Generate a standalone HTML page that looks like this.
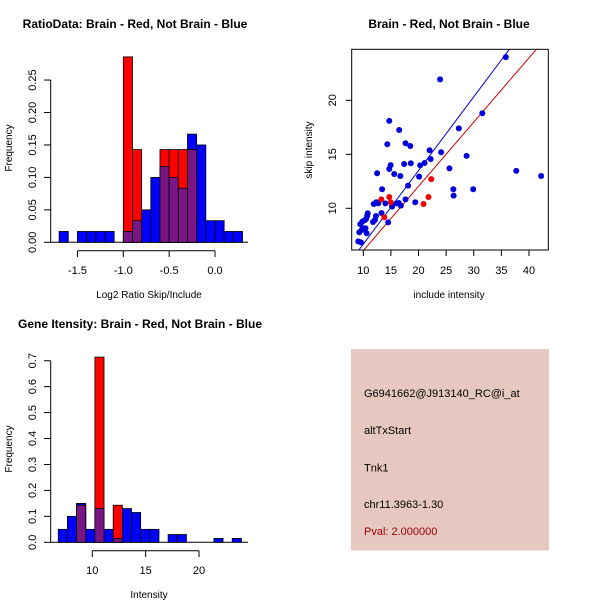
<!DOCTYPE html>
<html><head><meta charset="utf-8"><style>
html,body{margin:0;padding:0;background:#fff;}
svg{display:block;font-family:"Liberation Sans",sans-serif;}
</style></head><body>
<svg id="root" width="600" height="600" viewBox="0 0 600 600" xmlns="http://www.w3.org/2000/svg">
<rect width="600" height="600" fill="#fff"/>
<g id="p1">
<text x="135" y="28" font-size="12" font-weight="bold" text-anchor="middle">RatioData: Brain - Red, Not Brain - Blue</text>
<text x="0" y="0" font-size="10" text-anchor="middle" transform="translate(12,148) rotate(-90)">Frequency</text>
<text x="149" y="298" font-size="10" text-anchor="middle">Log2 Ratio Skip/Include</text>
</g>
<g id="p2">
<text x="449" y="28" font-size="12" font-weight="bold" text-anchor="middle">Brain - Red, Not Brain - Blue</text>
<text x="0" y="0" font-size="10" text-anchor="middle" transform="translate(312,150) rotate(-90)">skip intensity</text>
<text x="449" y="298" font-size="10" text-anchor="middle">include intensity</text>
</g>
<g id="p3">
<text x="140" y="328" font-size="12" font-weight="bold" text-anchor="middle">Gene Itensity: Brain - Red, Not Brain - Blue</text>
<text x="0" y="0" font-size="10" text-anchor="middle" transform="translate(12,449) rotate(-90)">Frequency</text>
<text x="149" y="598" font-size="10" text-anchor="middle">Intensity</text>
</g>
<g id="p4">
<rect x="351" y="349" width="198" height="201.5" fill="#e6c8c0"/>
<g font-size="11">
<text x="364" y="397">G6941662@J913140_RC@i_at</text>
<text x="364" y="434">altTxStart</text>
<text x="364" y="471.5">Tnk1</text>
<text x="364" y="508">chr11.3963-1.30</text>
<text x="364" y="535" fill="#a00000">Pval: 2.000000</text>
</g>
</g>
</svg>
<script>
// ---- ratio histogram data ----
const ratioBinStart = -1.7;
const ratioBinWidth = 0.1;
const ratioBlue = [0.0167,0,0.0167,0.0167,0.0167,0.0167,0,0.0167,0.0333,0.05,0.1,0.1167,0.1,0.0833,0.1667,0.15,0.0333,0.0333,0.0167,0.0167];
const ratioRed  = [0,0,0,0,0,0,0,0.2857,0.1429,0,0,0.1429,0.1429,0.1429,0.1429,0,0,0,0,0];
const ratioYTicks = ["0.00","0.05","0.10","0.15","0.20","0.25"];
const ratioXTicks = ["-1.5","-1.0","-0.5","0.0"];
// ---- scatter data ----
const blueX = [9.09,9.58,9.28,9.70,10.0,9.46,9.82,10.3,10.4,10.6,10.5,10.7,10.8,11.75,12.1,12.3,11.9,12.35,12.7,12.5,13.4,14.35,14.7,14.7,14.95,15.6,16.45,16.7,16.5,17.4,17.65,18.1,18.5,18.6,19.4,20.3,20.1,21.1,22.0,22.2,24.1,23.9,25.6,26.3,26.35,27.3,28.7,29.9,35.8,37.7,42.2,31.55,14.5,14.0,13.3,15.2,16.0,17.65,16.8];
const blueY = [6.94,6.85,7.78,7.99,8.15,8.52,8.77,8.92,8.15,7.69,9.01,9.29,9.54,8.73,8.92,9.29,10.4,10.56,10.46,13.24,11.76,15.93,18.09,13.64,14.0,13.18,10.49,12.99,17.25,14.1,16.02,12.1,15.77,14.17,10.56,13.98,12.93,14.2,15.37,14.57,15.19,21.94,13.7,11.76,11.17,17.4,14.85,11.76,24.0,13.46,12.99,18.8,8.7,10.46,9.57,10.15,10.46,10.83,10.25];
const redX = [13.26,14.7,14.95,13.8,20.9,21.8,22.3];
const redY = [10.83,11.05,10.56,9.17,10.4,11.05,12.7];
const lineSlopes = [0.682,0.595];
const lineIntercepts = [-0.14,0.13];
const scatterXTicks = [10,15,20,25,30,35,40];
const scatterYTicks = [10,15,20];
// ---- intensity histogram data ----
const intBinStart = 6.81;
const intBinWidth = 0.858;
const intBlue = [0.05,0.1,0.15,0.05,0.13,0.05,0.015,0.13,0.115,0.05,0.05,0,0.03,0.03,0,0,0,0.015,0,0.015];
const intRed  = [0,0,0.143,0,0.714,0,0.143,0,0,0,0,0,0,0,0,0,0,0,0,0];
const intYTicks = ["0.0","0.1","0.2","0.3","0.4","0.5","0.6","0.7"];
const intXTicks = [10,15,20];

const NS = "http://www.w3.org/2000/svg";
function mk(parent, tag, attrs){const e=document.createElementNS(NS,tag);for(const k in attrs)e.setAttribute(k,attrs[k]);parent.appendChild(e);return e;}
function txt(parent,x,y,s,anchor,rot){const t=mk(parent,"text",{x:0,y:0,"font-size":11,"text-anchor":anchor||"middle",transform:"translate("+x+","+y+")"+(rot?" rotate(-90)":"")});t.textContent=s;return t;}

function hist(g, start, w, blue, red, sx, sy, y0, axisLeft, axisRight){
  mk(g,"line",{x1:axisLeft,y1:y0,x2:axisRight,y2:y0,stroke:"#000"});
  for(let i=0;i<blue.length;i++){
    const x1=sx(start+i*w), x2=sx(start+(i+1)*w);
    if(blue[i]>0){const r=mk(g,"rect",{x:x1,y:sy(blue[i]),width:x2-x1,height:y0-sy(blue[i]),fill:"#0000ff",stroke:"#000","stroke-width":0.8});
      
      }
  }
  for(let i=0;i<red.length;i++){
    const x1=sx(start+i*w), x2=sx(start+(i+1)*w);
    if(red[i]>0){const r=mk(g,"rect",{x:x1,y:sy(red[i]),width:x2-x1,height:y0-sy(red[i]),fill:"#ff0000",stroke:"#000","stroke-width":0.8});
      
      
      const m=Math.min(red[i],blue[i]);
      if(m>0){const p=mk(g,"rect",{x:x1,y:sy(m),width:x2-x1,height:y0-sy(m),fill:"#7a1585",stroke:"#000","stroke-width":0.8});
        
        }
    }
  }
}

// Panel 1
(function(){
  const g=document.getElementById("p1");
  const sx=v=>215+v*91.7, sy=v=>242.3-v*649;
  hist(g,ratioBinStart,ratioBinWidth,ratioBlue,ratioRed,sx,sy,242.3,50.7,248);
  mk(g,"line",{x1:50.7,y1:sy(0),x2:50.7,y2:sy(0.25),stroke:"#000"});
  ratioYTicks.forEach(s=>{const v=parseFloat(s);mk(g,"line",{x1:44,y1:sy(v),x2:50.7,y2:sy(v),stroke:"#000"});
    const t=txt(g,36,sy(v),s,"middle",true);});
  const xs=ratioXTicks.map(parseFloat);
  mk(g,"line",{x1:sx(xs[0]),y1:250.7,x2:sx(xs[xs.length-1]),y2:250.7,stroke:"#000"});
  ratioXTicks.forEach(s=>{const v=parseFloat(s);mk(g,"line",{x1:sx(v),y1:250.7,x2:sx(v),y2:257,stroke:"#000"});
    const t=txt(g,sx(v),274,s);});
})();

// Panel 2
(function(){
  const g=document.getElementById("p2");
  const sx=v=>363.3+(v-10)*5.523, sy=v=>208.3-(v-10)*10.8;
  const L=351.7,R=548.3,T=49.3,B=250;
  const cp=mk(g,"clipPath",{id:"clip2"});
  mk(cp,"rect",{x:L,y:T,width:R-L,height:B-T});
  const cg=mk(g,"g",{"clip-path":"url(#clip2)"});
  const cols=["#0000cc","#cc0000"];
  lineSlopes.forEach((m,i)=>{const b=lineIntercepts[i];const l=mk(cg,"line",{x1:sx(0),y1:sy(b),x2:sx(50),y2:sy(b+50*m),stroke:cols[i],"stroke-width":1});
    });
  blueX.forEach((x,i)=>{const c=mk(cg,"circle",{cx:sx(x),cy:sy(blueY[i]),r:3,fill:"#0000dd"});
    });
  redX.forEach((x,i)=>{const c=mk(cg,"circle",{cx:sx(x),cy:sy(redY[i]),r:3,fill:"#ee0000"});
    });
  mk(g,"rect",{x:L,y:T,width:R-L,height:B-T,fill:"none",stroke:"#000"});
  scatterXTicks.forEach(v=>{mk(g,"line",{x1:sx(v),y1:B,x2:sx(v),y2:B+6,stroke:"#000"});
    const t=txt(g,sx(v),274,String(v));});
  scatterYTicks.forEach(v=>{mk(g,"line",{x1:L-6,y1:sy(v),x2:L,y2:sy(v),stroke:"#000"});
    const t=txt(g,336,sy(v),String(v),"middle",true);});
})();

// Panel 3
(function(){
  const g=document.getElementById("p3");
  const sx=v=>92.3+(v-10)*10.67, sy=v=>542.3-v*259.4;
  hist(g,intBinStart,intBinWidth,intBlue,intRed,sx,sy,542.3,50.7,248);
  mk(g,"line",{x1:50.7,y1:sy(0),x2:50.7,y2:sy(0.7),stroke:"#000"});
  intYTicks.forEach(s=>{const v=parseFloat(s);mk(g,"line",{x1:44,y1:sy(v),x2:50.7,y2:sy(v),stroke:"#000"});
    const t=txt(g,36,sy(v),s,"middle",true);});
  mk(g,"line",{x1:sx(intXTicks[0]),y1:550.7,x2:sx(intXTicks[intXTicks.length-1]),y2:550.7,stroke:"#000"});
  intXTicks.forEach(v=>{mk(g,"line",{x1:sx(v),y1:550.7,x2:sx(v),y2:557,stroke:"#000"});
    const t=txt(g,sx(v),574,String(v));});
})();
</script>
</body></html>
